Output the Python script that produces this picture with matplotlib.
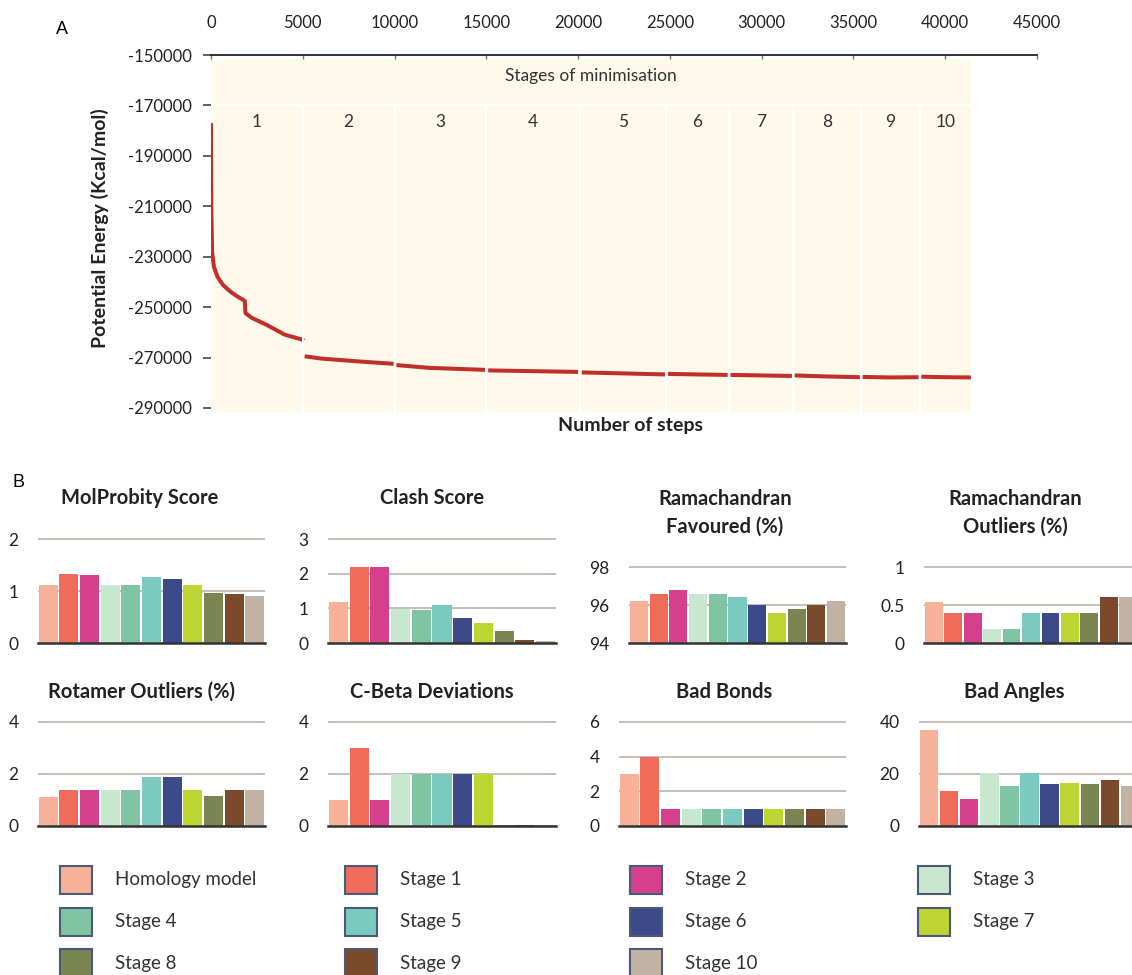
import matplotlib.pyplot as plt
from matplotlib.patches import Rectangle

W, H = 1132, 975
plt.rcParams['font.family'] = ['Lato', 'DejaVu Sans']
plt.rcParams['axes.unicode_minus'] = False

# ---- panel A: potential energy during the minimisation stages ----
stage_bounds = [0, 5000, 10000, 15000, 20100, 24800, 28200, 31700, 35400, 38600, 41400]

stage_steps = [
    [0, 20, 60, 160, 355, 650, 1050, 1440, 1840, 1880, 2230, 3020, 4010, 4960, 5040],
    [5100, 5990, 7960, 9950],
    [10100, 11900, 14950],
    [15100, 17500, 20000],
    [20200, 22500, 24750],
    [24900, 26500, 28150],
    [28300, 30000, 31650],
    [31800, 33500, 35350],
    [35500, 37000, 38550],
    [38700, 40000, 41400],
]
stage_energy = [
    [-177000, -212000, -228000, -234000, -238000, -241200, -243800, -245800, -247500,
     -252400, -254300, -257000, -260900, -262900, -262200],
    [-269500, -270400, -271500, -272500],
    [-273000, -274100, -274900],
    [-275100, -275400, -275700],
    [-275900, -276300, -276700],
    [-276500, -276700, -276900],
    [-276900, -277100, -277300],
    [-277100, -277500, -277800],
    [-277700, -277900, -277800],
    [-277600, -277800, -277900],
]

# ---- panel B: validation scores per model ----
series_names = ['Homology model', 'Stage 1', 'Stage 2', 'Stage 3', 'Stage 4', 'Stage 5',
                'Stage 6', 'Stage 7', 'Stage 8', 'Stage 9', 'Stage 10']
series_colors = ['#f7b198', '#ee6c59', '#d4408c', '#c8e7cf', '#7fc5a3', '#7acabf',
                 '#3c4a89', '#bdd532', '#7a8450', '#7a4a2b', '#c1b2a4']

molprobity = [1.11, 1.33, 1.30, 1.11, 1.11, 1.26, 1.23, 1.11, 0.97, 0.94, 0.91]
clash = [1.18, 2.20, 2.20, 0.97, 0.96, 1.09, 0.71, 0.59, 0.34, 0.09, 0.07]
rama_favoured = [96.2, 96.6, 96.8, 96.6, 96.6, 96.4, 96.0, 95.6, 95.8, 96.0, 96.2]
rama_outliers = [0.54, 0.40, 0.40, 0.19, 0.19, 0.40, 0.40, 0.40, 0.40, 0.61, 0.61]
rotamer = [1.10, 1.40, 1.40, 1.40, 1.40, 1.90, 1.90, 1.40, 1.15, 1.40, 1.40]
cbeta = [1, 3, 1, 2, 2, 2, 2, 2, 0.03, 0.04, 0.02]
bad_bonds = [3, 4, 1, 1, 1, 1, 1, 1, 1, 1, 1]
bad_angles = [36.8, 13.5, 10.4, 20.4, 15.4, 20.5, 16.3, 16.4, 16.3, 17.7, 15.4]

fig = plt.figure(figsize=(W / 100, H / 100), dpi=100)


def px_axes(x0, y0, x1, y1):
    return fig.add_axes([x0 / W, 1 - y1 / H, (x1 - x0) / W, (y1 - y0) / H])


def px_text(x, y, s, **kw):
    return fig.text(x / W, 1 - y / H, s, **kw)


ax = px_axes(211, 55, 1037, 413)
ax.set_xlim(0, 45000)
ax.set_ylim(-292000, -150000)
ax.fill_between([0, stage_bounds[-1]], -292000, -151500, color='#fff9eb', lw=0, zorder=0)

for xs, ys in zip(stage_steps, stage_energy):
    ax.plot(xs, ys, color='#c0302a', lw=2.9, solid_capstyle='butt', zorder=2)

# white dividers between stage cells
ax.hlines(-170000, 0, stage_bounds[-1], color='white', lw=1.5, zorder=3)
ax.vlines(stage_bounds[1:-1], -292000, -170000, color='white', lw=1.5, zorder=3)

for i in range(len(stage_bounds) - 1):
    mid = (stage_bounds[i] + stage_bounds[i + 1]) / 2
    ax.text(mid, -176500, str(i + 1), ha='center', va='center', fontsize=12.5, color='#333333')
ax.text(stage_bounds[-1] / 2, -158500, 'Stages of minimisation', ha='center', va='center',
        fontsize=12.5, color='#333333')

ax.xaxis.tick_top()
ax.set_xticks(range(0, 45001, 5000))
ax.set_yticks(range(-150000, -290001, -20000))
ax.tick_params(axis='x', direction='in', length=3, width=1, color='#777777', pad=17,
               labelsize=12, labelcolor='#222222')
ax.tick_params(axis='y', direction='out', length=6, width=1.2, color='#444444', pad=8,
               labelsize=12, labelcolor='#222222')
for side in ['left', 'right', 'bottom']:
    ax.spines[side].set_visible(False)
ax.spines['top'].set_linewidth(1.3)
ax.spines['top'].set_color('#222222')

px_text(100, 228, 'Potential Energy (Kcal/mol)', rotation=90, ha='center', va='center',
        fontsize=14, fontweight='bold', color='#222222')
px_text(630, 425, 'Number of steps', ha='center', va='center', fontsize=14,
        fontweight='bold', color='#222222')
px_text(62, 30, 'A', fontsize=13, ha='center', va='center', family='Liberation Sans')
px_text(18, 483, 'B', fontsize=13, ha='center', va='center', family='Liberation Sans')

# title, values, y range, tick step, axes box (left, top, right, baseline), title position
panels = [
    ('MolProbity Score', molprobity, 0, 2, 1, (38, 539, 265, 643), (140, 498)),
    ('Clash Score', clash, 0, 3, 1, (328, 539, 556, 643), (432, 498)),
    ('Ramachandran\nFavoured (%)', rama_favoured, 94, 98, 2, (629, 567, 846, 643), (725, 513)),
    ('Ramachandran\nOutliers (%)', rama_outliers, 0, 1, 0.5, (924, 567, 1138, 643), (1015, 513)),
    ('Rotamer Outliers (%)', rotamer, 0, 4, 2, (38, 722, 265, 826), (142, 692)),
    ('C-Beta Deviations', cbeta, 0, 4, 2, (328, 722, 556, 826), (432, 692)),
    ('Bad Bonds', bad_bonds, 0, 6, 2, (619, 722, 846, 826), (724, 692)),
    ('Bad Angles', bad_angles, 0, 40, 20, (919, 722, 1140, 826), (1014, 692)),
]

for title, vals, lo, hi, step, (x0, y0, x1, y1), (tx, ty) in panels:
    pad = 0.03
    top = y0 - pad * (y1 - y0)
    bax = px_axes(x0, top, x1, y1)
    bax.bar(range(len(vals)), vals, width=0.92, color=series_colors, zorder=2)
    bax.set_xlim(-0.5, len(vals) - 0.5)
    bax.set_ylim(lo, hi + pad * (hi - lo))
    ticks = [lo + k * step for k in range(int(round((hi - lo) / step)) + 1)]
    bax.set_yticks(ticks)
    bax.set_yticklabels(['{:g}'.format(t) for t in ticks])
    bax.set_xticks([])
    bax.yaxis.grid(True, color='#bdb3ae', lw=1.2, zorder=1)
    bax.set_axisbelow(True)
    bax.tick_params(axis='y', length=0, pad=14, labelsize=12.5, labelcolor='#222222')
    for side in ['left', 'right', 'top']:
        bax.spines[side].set_visible(False)
    bax.spines['bottom'].set_color('#333333')
    bax.spines['bottom'].set_linewidth(1.8)
    bax.spines['bottom'].set_zorder(3)
    bax.patch.set_alpha(0)
    px_text(tx, ty, title, ha='center', va='center', fontsize=14.5, fontweight='bold',
            color='#222222', linespacing=1.45)

# legend blocks
col_x = [60, 345, 630, 918]
row_y = [880, 922, 963]
for k, (name, col) in enumerate(zip(series_names, series_colors)):
    x0 = col_x[k % 4]
    yc = row_y[k // 4]
    fig.add_artist(Rectangle((x0 / W, 1 - (yc + 14) / H), 32 / W, 28 / H,
                             transform=fig.transFigure, facecolor=col,
                             edgecolor='#4b5a78', lw=1.5))
    px_text(x0 + 55, yc, name, ha='left', va='center', fontsize=13.5, color='#333333')

fig.savefig('out.png', dpi=100)
